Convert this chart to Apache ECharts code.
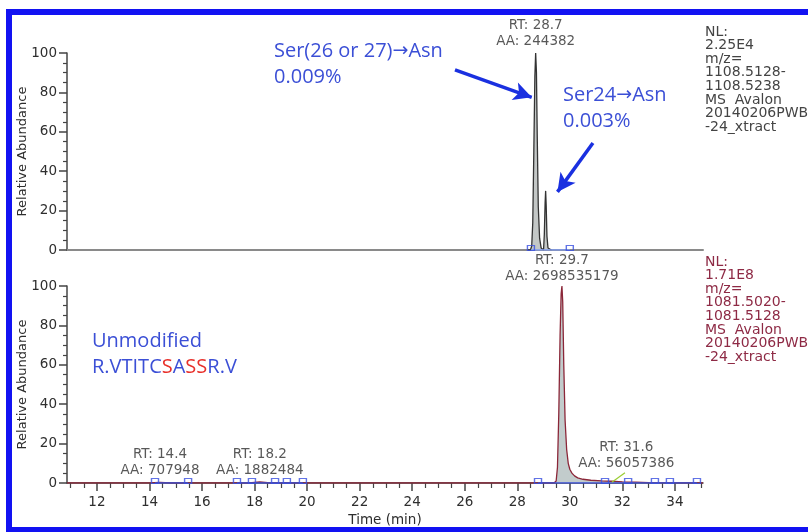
<!DOCTYPE html>
<html>
<head>
<meta charset="utf-8">
<script src="https://cdn.jsdelivr.net/npm/echarts@6/dist/echarts.min.js"></script>
<style>html,body{margin:0;padding:0;background:#fff}#c{width:808px;height:532px}</style>
</head>
<body>
<div id="c"></div>
<script>
// ---- data ----
const xMin = 10.86, xMax = 35.07;
const majorTicks = [12, 14, 16, 18, 20, 22, 24, 26, 28, 30, 32, 34];
const minorTicks = [11, 11.5, 12.5, 13, 13.5, 14.5, 15, 15.5, 16.5, 17, 17.5, 18.5, 19, 19.5, 20.5, 21, 21.5, 22.5, 23, 23.5, 24.5, 25, 25.5, 26.5, 27, 27.5, 28.5, 29, 29.5, 30.5, 31, 31.5, 32.5, 33, 33.5, 34.5, 35];

// top trace (Ser->Asn deamidation XIC)
const topTime  = [28.40, 28.50, 28.55, 28.59, 28.63, 28.67, 28.70, 28.73, 28.76, 28.80, 28.85, 28.91, 28.96, 29.00, 29.03, 29.06, 29.08, 29.10, 29.13, 29.17, 29.22, 29.30];
const topAbund = [0, 0, 2, 14, 50, 88, 100, 90, 58, 22, 6, 1, 0, 0, 8, 24, 30, 23, 7, 1, 0, 0];

// bottom trace (unmodified peptide XIC)
const botTime  = [10.86, 14.0, 14.4, 14.8, 17.8, 18.2, 18.6, 29.40, 29.48, 29.53, 29.58, 29.63, 29.67, 29.70, 29.73, 29.77, 29.82, 29.88, 29.94, 30.00, 30.08, 30.18, 30.30, 30.50, 30.80, 31.20, 31.60, 32.00, 32.50, 33.00, 35.07];
const botAbund = [0, 0, 0.3, 0, 0, 0.5, 0, 0, 1, 8, 35, 75, 96, 100, 92, 60, 32, 17, 10, 7, 5, 3.6, 2.6, 1.9, 1.4, 1.1, 0.9, 0.6, 0.4, 0.2, 0];

// integration baseline markers
const topMarks = [28.52, 30.0];
const botMarks = [14.21, 15.47, 17.33, 17.90, 18.78, 19.23, 19.84, 28.79, 31.34, 32.22, 33.24, 33.81, 34.84];
const topBaseSegs = [[28.52, 30.0]];
const botBaseSegs = [[14.21, 15.47], [17.33, 19.84], [28.79, 34.84]];

// peak labels
const topLabelX = [28.7], topLabelY = [100];
const topLabelText = ['RT: 28.7\nAA: 244382'];
const botLabelX = [14.4, 18.2, 29.7, 32.15], botLabelY = [0.4, 0.4, 100, 6];
const botLabelText = ['RT: 14.4\nAA: 707948', 'RT: 18.2\nAA: 1882484', 'RT: 29.7\nAA: 2698535179', 'RT: 31.6\nAA: 56057386'];
const leader = [[31.6, 0.4], [32.1, 5.2]];

// arrows (data coords on top panel)
const arrows = [[[25.63, 91.4], [28.55, 77.5]], [[30.88, 54.3], [29.53, 29.5]]];

const topInfo = ['NL:', '2.25E4', 'm/z=', '1108.5128-', '1108.5238', 'MS  Avalon', '20140206PWB', '-24_xtract'];
const botInfo = ['NL:', '1.71E8', 'm/z=', '1081.5020-', '1081.5128', 'MS  Avalon', '20140206PWB', '-24_xtract'];

// ---- chart ----
const font = 'DejaVu Sans';
const axisCol = '#444';
const txtCol = '#2e2e2e';
const chart = echarts.init(document.getElementById('c'));

function yAx(g) {
  return {
    gridIndex: g, type: 'value', min: 0, max: 100, interval: 20,
    name: 'Relative Abundance', nameLocation: 'middle', nameGap: 38, nameMoveOverlap: false,
    nameTextStyle: { fontFamily: font, fontSize: 13, color: txtCol },
    axisLine: { show: true, lineStyle: { color: axisCol, width: 1.5 } },
    axisTick: { show: true, length: 8, lineStyle: { color: axisCol, width: 1.5 } },
    minorTick: { show: true, splitNumber: 4, length: 4, lineStyle: { color: axisCol, width: 1.2 } },
    axisLabel: { fontFamily: font, fontSize: 13.5, color: txtCol, margin: 10 },
    splitLine: { show: false }, minorSplitLine: { show: false }
  };
}

const segSeries = (segs, xi, yi, color, w) => segs.map(s => ({
  type: 'line', xAxisIndex: xi, yAxisIndex: yi, data: [[s[0], 0], [s[1], 0]],
  symbol: 'none', lineStyle: { color: color, width: w }, silent: true, z: 4, animation: false
}));

const markSeries = (arr, xi, yi) => ({
  type: 'scatter', xAxisIndex: xi, yAxisIndex: yi, data: arr.map(v => [v, 0]),
  symbol: 'rect', symbolSize: [7, 5], symbolOffset: [0, -2],
  itemStyle: { color: 'rgba(255,255,255,0)', borderColor: '#3a50e0', borderWidth: 1.2 },
  silent: true, z: 5, animation: false
});

const labelSeries = (xs, ys, texts, xi, yi, extra) => ({
  type: 'scatter', xAxisIndex: xi, yAxisIndex: yi, symbolSize: 0, silent: true, z: 6, animation: false,
  data: xs.map((x, i) => ({ value: [x, ys[i]], label: Object.assign({
    show: true, position: 'top', distance: 4, formatter: texts[i], fontFamily: font, fontSize: 13.5,
    color: txtCol, lineHeight: 16, align: 'center'
  }, (extra && extra[i]) || {}) }))
});

const infoText = (lines, y, color) => ({
  type: 'text', left: 705, top: y,
  style: { text: lines.join('\n'), font: '14px "DejaVu Sans"', fill: color, lineHeight: 13.6 }
});

const blue = '#3b4fd6';
const annFont = '20px "Open Sans"';
const arrFont = '19px "DejaVu Sans"';
const annRich = { t: { fill: blue, font: annFont }, a: { fill: blue, font: arrFont }, r: { fill: '#e8302a', font: annFont } };

chart.setOption({
  animation: false,
  grid: [
    { left: 67, right: 105, top: 53, height: 197 },
    { left: 67, right: 105, top: 286, height: 197 }
  ],
  xAxis: [
    { gridIndex: 0, type: 'value', min: xMin, max: xMax, position: 'bottom',
      axisLine: { show: true, lineStyle: { color: '#8a8a8a', width: 2 } },
      axisTick: { show: false }, axisLabel: { show: false }, splitLine: { show: false } },
    { gridIndex: 1, type: 'value', min: xMin, max: xMax, position: 'bottom',
      name: 'Time (min)', nameLocation: 'middle', nameGap: 30, nameMoveOverlap: false,
      nameTextStyle: { fontFamily: font, fontSize: 13.5, color: txtCol },
      axisLine: { show: true, lineStyle: { color: axisCol, width: 1.5 } },
      axisTick: { show: true, customValues: majorTicks, length: 8, lineStyle: { color: axisCol, width: 1.5 } },
      axisLabel: { customValues: majorTicks, fontFamily: font, fontSize: 13.5, color: txtCol, margin: 12 },
      splitLine: { show: false } },
    { gridIndex: 1, type: 'value', min: xMin, max: xMax, position: 'bottom',
      axisLine: { show: false },
      axisTick: { show: true, customValues: minorTicks, length: 5, lineStyle: { color: axisCol, width: 1.2 } },
      axisLabel: { show: false }, splitLine: { show: false } }
  ],
  yAxis: [yAx(0), yAx(1)],
  series: [
    { type: 'line', xAxisIndex: 0, yAxisIndex: 0, data: topTime.map((t, i) => [t, topAbund[i]]),
      symbol: 'none', lineStyle: { color: '#333', width: 1.3 }, areaStyle: { color: '#c3c7c6', opacity: 1 }, z: 3,
      markLine: {
        silent: true, symbol: ['none', 'arrow'], symbolSize: [14, 18], label: { show: false },
        lineStyle: { color: '#1a30e0', width: 3.5, type: 'solid' },
        data: arrows.map(a => [{ coord: a[0] }, { coord: a[1] }])
      } },
    { type: 'line', xAxisIndex: 1, yAxisIndex: 1, data: botTime.map((t, i) => [t, botAbund[i]]),
      symbol: 'none', lineStyle: { color: '#8b2638', width: 1.3 }, areaStyle: { color: '#c2cccc', opacity: 1 }, z: 3 },
    ...segSeries(topBaseSegs, 0, 0, '#7f9cf5', 1.5),
    ...segSeries(botBaseSegs, 1, 1, '#3a4fd6', 1.5),
    markSeries(topMarks, 0, 0),
    markSeries(botMarks, 1, 1),
    { type: 'line', xAxisIndex: 1, yAxisIndex: 1, data: leader, symbol: 'none',
      lineStyle: { color: '#9acd32', width: 1.2 }, silent: true, z: 4 },
    labelSeries(topLabelX, topLabelY, topLabelText, 0, 0),
    labelSeries(botLabelX, botLabelY, botLabelText, 1, 1, [null, null, { distance: 2 }, { distance: 0 }])
  ],
  graphic: [
    { type: 'rect', shape: { x: 9, y: 12, width: 820, height: 518 }, style: { fill: 'none', stroke: '#1212f2', lineWidth: 6 }, silent: true },
    infoText(topInfo, 25, '#444'),
    infoText(botInfo, 255, '#8e2a45'),
    { type: 'text', left: 274, top: 38, style: { text: '{t|Ser(26 or 27)}{a|\u2192}{t|Asn}\n{t|0.009%}', lineHeight: 26, rich: annRich } },
    { type: 'text', left: 563, top: 82, style: { text: '{t|Ser24}{a|\u2192}{t|Asn}\n{t|0.003%}', lineHeight: 26, rich: annRich } },
    { type: 'text', left: 92, top: 328, style: { text: '{t|Unmodified}\n{t|R.VTITC}{r|S}{t|A}{r|SS}{t|R.V}', lineHeight: 26, rich: annRich } }
  ]
});
</script>
</body>
</html>
